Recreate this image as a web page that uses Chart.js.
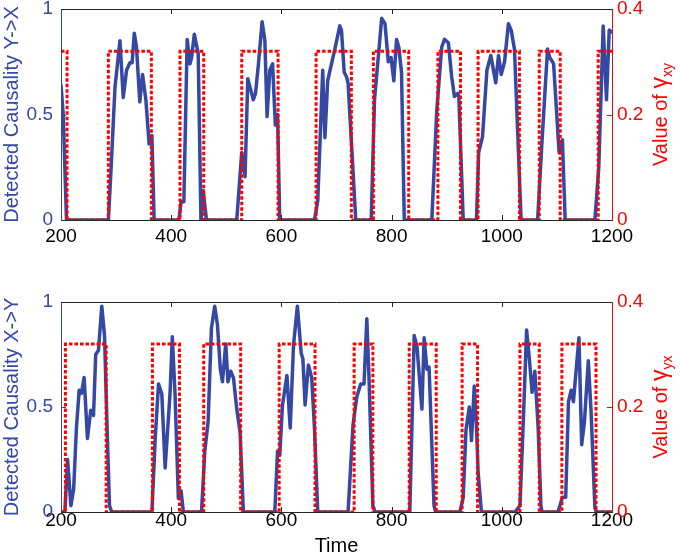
<!DOCTYPE html>
<html>
<head>
<meta charset="utf-8">
<script src="https://cdn.jsdelivr.net/npm/chart.js@4.4.1/dist/chart.umd.min.js"></script>
<style>
  html, body { margin: 0; padding: 0; background: #fff; }
  #wrap { position: relative; width: 680px; height: 558px; }
  canvas { position: absolute; left: 0; }
  #top { top: 0; }
  #bottom { top: 262px; }
</style>
</head>
<body>
<div id="wrap">
  <canvas id="top" width="680" height="262"></canvas>
  <canvas id="bottom" width="680" height="296"></canvas>
</div>
<script>
const xTicks = [200, 400, 600, 800, 1000, 1200];
const causeTicks = [0, 0.5, 1];
const gammaTicks = [0, 0.2, 0.4];

// upper panel: detected causality Y->X and gamma_xy
const yxTime = [200, 204, 210, 286, 291, 298, 307, 313, 319, 325, 329, 333, 337, 343, 348, 354, 360, 365, 369,
  414, 418, 423, 429, 434, 437, 442, 449, 454, 458, 464,
  519, 528, 534, 539, 549, 553, 558, 565, 570, 574, 579, 584, 589, 593, 597,
  660, 666, 675, 679, 684, 697, 706, 709, 714, 718, 721, 735,
  763, 769, 782, 788, 794, 799, 804, 809, 813, 818, 823,
  873, 882, 891, 896, 903, 909, 914, 920, 922, 930,
  954, 958, 965, 973, 980, 989, 994, 999, 1005, 1012, 1017, 1023, 1035,
  1065, 1072, 1083, 1087, 1092, 1094, 1104, 1110, 1115,
  1169, 1176, 1184, 1190, 1195, 1200];
const yxCausality = [0.64, 0.50, 0, 0, 0.25, 0.63, 0.85, 0.58, 0.71, 0.745, 0.745, 0.885, 0.82, 0.56, 0.69, 0.57, 0.36, 0.40, 0,
  0, 0.087, 0.087, 0.856, 0.74, 0.77, 0.88, 0.79, 0, 0.14, 0,
  0, 0.32, 0.205, 0.67, 0.57, 0.60, 0.73, 0.94, 0.85, 0.49, 0.71, 0.74, 0.45, 0.50, 0,
  0, 0.09, 0.71, 0.39, 0.66, 0.81, 0.92, 0.90, 0.70, 0.68, 0.65, 0,
  0, 0.57, 0.956, 0.93, 0.75, 0.77, 0.66, 0.856, 0.82, 0.70, 0,
  0, 0.52, 0.82, 0.856, 0.84, 0.68, 0.585, 0.60, 0.585, 0,
  0, 0.32, 0.395, 0.71, 0.78, 0.65, 0.78, 0.69, 0.75, 0.93, 0.90, 0.81, 0,
  0, 0.33, 0.81, 0.77, 0.75, 0.74, 0.32, 0.38, 0,
  0, 0.25, 0.92, 0.57, 0.90, 0.89];
const gxyTime = [200, 211, 286, 364, 416, 459, 528, 594, 663, 727, 767, 831, 884, 925, 957, 1032, 1068, 1106, 1175, 1200];
const gxyValue = [0.32, 0, 0.32, 0, 0.32, 0, 0.32, 0, 0.32, 0, 0.32, 0, 0.32, 0, 0.32, 0, 0.32, 0, 0.32, 0.32];

// lower panel: detected causality X->Y and gamma_yx
const xyTime = [200, 207, 212, 218, 223, 228, 233, 237, 242, 248, 254, 259, 263, 268, 274, 279, 284, 288, 292,
  365, 371, 377, 383, 389, 398, 402, 407, 413, 418, 422,
  455, 461, 467, 473, 479, 484, 489, 493, 499, 503, 508, 513, 519, 525, 531,
  588, 593, 597, 602, 610, 616, 622, 629, 636, 639, 643, 649, 655, 660, 666,
  721, 730, 737, 744, 750, 755, 759, 766, 770,
  833, 841, 846, 855, 859, 864, 868, 877, 880,
  924, 930, 935, 941, 945, 950, 954, 957, 963,
  1024, 1033, 1039, 1045, 1049, 1055, 1060, 1066, 1071, 1073,
  1102, 1110, 1116, 1121, 1126, 1130, 1140, 1145, 1150, 1157, 1162, 1169, 1172, 1200];
const xyCausality = [0, 0, 0.25, 0.03, 0.11, 0.40, 0.58, 0.565, 0.64, 0.35, 0.485, 0.46, 0.75, 0.77, 0.98, 0.84, 0.37, 0.03, 0,
  0, 0.35, 0.61, 0.56, 0.21, 0.57, 0.835, 0.56, 0.065, 0.10, 0,
  0, 0.29, 0.43, 0.875, 0.98, 0.89, 0.685, 0.62, 0.80, 0.62, 0.67, 0.64, 0.49, 0.38, 0,
  0, 0.29, 0.27, 0.51, 0.65, 0.40, 0.795, 0.98, 0.755, 0.73, 0.51, 0.70, 0.64, 0.40, 0,
  0, 0.415, 0.55, 0.61, 0.61, 0.92, 0.64, 0.03, 0,
  0, 0.84, 0.79, 0.49, 0.83, 0.68, 0.69, 0.03, 0,
  0, 0.07, 0.39, 0.50, 0.34, 0.60, 0.41, 0.19, 0,
  0, 0.03, 0.43, 0.867, 0.76, 0.57, 0.67, 0.40, 0.03, 0,
  0, 0.07, 0.07, 0.525, 0.58, 0.525, 0.83, 0.32, 0.43, 0.72, 0.48, 0.02, 0, 0];
const gyxTime = [200, 208, 282, 366, 415, 459, 526, 596, 661, 732, 766, 832, 881, 928, 956, 1033, 1068, 1109, 1171, 1200];
const gyxValue = [0, 0.32, 0, 0.32, 0, 0.32, 0, 0.32, 0, 0.32, 0, 0.32, 0, 0.32, 0, 0.32, 0, 0.32, 0, 0];

const BLUE = '#3548a3';
const RED = '#ff0000';
const DARK = '#262626';
const FONT = "'Liberation Sans', Arial, sans-serif";

Chart.defaults.font.family = FONT;

const pts = (t, v) => t.map((x, i) => ({ x: x, y: v[i] }));

// keep the plot box exactly where the layout puts it
const noPad = s => { s.paddingTop = 0; s.paddingBottom = 0; s.paddingLeft = 0; s.paddingRight = 0; };

// box edges, inward ticks and the right-hand title with its subscript
const framePlugin = {
  id: 'frame',
  afterDraw(chart, args, opts) {
    const { ctx, chartArea: a, scales } = chart;
    ctx.save();
    ctx.lineWidth = 1;
    ctx.strokeStyle = DARK;
    ctx.beginPath();
    ctx.moveTo(a.left, a.top + 0.5);
    ctx.lineTo(a.right, a.top + 0.5);
    ctx.stroke();
    xTicks.slice(1, -1).forEach(v => {
      const px = Math.round(scales.x.getPixelForValue(v)) + 0.5;
      ctx.beginPath();
      ctx.moveTo(px, a.top); ctx.lineTo(px, a.top + 5);
      ctx.moveTo(px, a.bottom); ctx.lineTo(px, a.bottom - 5);
      ctx.stroke();
    });
    ctx.strokeStyle = BLUE;
    causeTicks.slice(1, -1).forEach(v => {
      const py = Math.round(scales.y.getPixelForValue(v)) + 0.5;
      ctx.beginPath(); ctx.moveTo(a.left, py); ctx.lineTo(a.left + 5, py); ctx.stroke();
    });
    ctx.strokeStyle = RED;
    gammaTicks.slice(1, -1).forEach(v => {
      const py = Math.round(scales.y1.getPixelForValue(v)) + 0.5;
      ctx.beginPath(); ctx.moveTo(a.right, py); ctx.lineTo(a.right - 5, py); ctx.stroke();
    });

    const main = 'Value of ';
    const fMain = '20px ' + FONT;
    const fGam = '23px ' + FONT;
    const fSub = '14px ' + FONT;
    ctx.font = fMain; const w1 = ctx.measureText(main).width;
    ctx.font = fGam; const w2 = ctx.measureText('γ').width;
    ctx.font = fSub; const w3 = ctx.measureText(opts.sub).width;
    const total = w1 + w2 + w3;
    ctx.translate(opts.titleX, (a.top + a.bottom) / 2);
    ctx.rotate(-Math.PI / 2);
    ctx.fillStyle = RED;
    ctx.textBaseline = 'alphabetic';
    ctx.textAlign = 'left';
    let x0 = -total / 2;
    ctx.font = fMain; ctx.fillText(main, x0, 7);
    x0 += w1;
    ctx.font = fGam; ctx.fillText('γ', x0, 7);
    x0 += w2;
    ctx.font = fSub; ctx.fillText(opts.sub, x0, 12);
    ctx.restore();
  }
};

function panel(id, blueT, blueV, redT, redV, leftTitle, sub, padTop, xAxisH, tickPad, showTime) {
  return new Chart(document.getElementById(id), {
    type: 'line',
    data: {
      datasets: [
        {
          data: pts(redT, redV),
          yAxisID: 'y1',
          borderColor: RED,
          borderWidth: 3,
          borderDash: [3.5, 2],
          stepped: 'before',
          pointRadius: 0,
          fill: false,
          order: 0
        },
        {
          data: pts(blueT, blueV),
          yAxisID: 'y',
          borderColor: BLUE,
          borderWidth: 3.5,
          borderJoinStyle: 'round',
          borderCapStyle: 'round',
          tension: 0,
          pointRadius: 0,
          fill: false,
          order: 1
        }
      ]
    },
    options: {
      responsive: false,
      devicePixelRatio: 1,
      animation: false,
      layout: { padding: { top: padTop, left: 0, right: 0, bottom: 0 } },
      plugins: {
        legend: { display: false },
        tooltip: { enabled: false },
        frame: { sub: sub, titleX: 660 }
      },
      scales: {
        x: {
          type: 'linear',
          min: 200,
          max: 1200,
          afterBuildTicks: s => { s.ticks = xTicks.map(v => ({ value: v })); },
          afterFit: s => { s.height = xAxisH; noPad(s); },
          grid: { display: false, drawTicks: false },
          border: { display: true, color: DARK, width: 1 },
          ticks: { color: '#000', font: { size: 19 }, padding: tickPad, maxRotation: 0, callback: v => String(v) },
          title: { display: showTime, text: 'Time', color: '#000', font: { size: 20 }, padding: 0 }
        },
        y: {
          position: 'left',
          min: 0,
          max: 1,
          afterBuildTicks: s => { s.ticks = causeTicks.map(v => ({ value: v })); },
          afterFit: s => { s.width = 61; noPad(s); },
          grid: { display: false, drawTicks: false },
          border: { display: true, color: BLUE, width: 1 },
          ticks: { color: BLUE, font: { size: 19 }, padding: 8, callback: v => String(v) },
          title: { display: true, text: leftTitle, color: BLUE, font: { size: 20 }, padding: 0 }
        },
        y1: {
          position: 'right',
          min: 0,
          max: 0.4,
          afterBuildTicks: s => { s.ticks = gammaTicks.map(v => ({ value: v })); },
          afterFit: s => { s.width = 68; noPad(s); },
          grid: { display: false, drawTicks: false },
          border: { display: true, color: RED, width: 1 },
          ticks: { color: RED, font: { size: 19 }, padding: 5, callback: v => String(v) }
        }
      }
    },
    plugins: [framePlugin]
  });
}

panel('top', yxTime, yxCausality, gxyTime, gxyValue, 'Detected Causality Y->X', 'xy', 9, 42, 5, false);
panel('bottom', xyTime, xyCausality, gyxTime, gyxValue, 'Detected Causality X->Y', 'yx', 40, 46, -3, true);
</script>
</body>
</html>
